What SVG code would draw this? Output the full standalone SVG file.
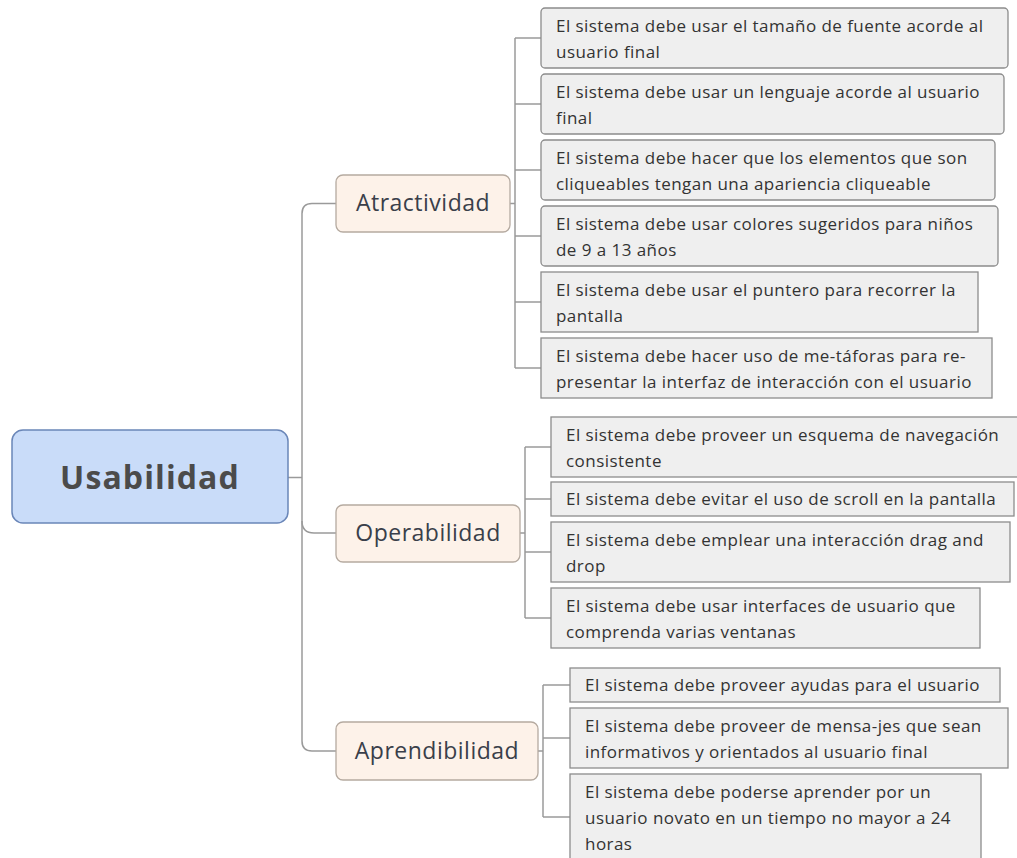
<svg xmlns="http://www.w3.org/2000/svg" width="1017" height="858" viewBox="0 0 1017 858">
<style>
.leaf{fill:#efefef;stroke:#8c8c8c;stroke-width:1.3}
.lt{font-family:"Open Sans",sans-serif;font-size:17px;letter-spacing:0.45px;fill:#333}
.sub{fill:#fdf2e9;stroke:#b5aaa0;stroke-width:1.3}
.st{font-family:"Open Sans",sans-serif;font-size:23px;letter-spacing:0.5px;fill:#3a3f4a;text-anchor:middle}
.conn{fill:none;stroke:#9a9a9a;stroke-width:1.5}
</style>
<rect width="1017" height="858" fill="#fff"/>
<g id="connectors">
<path class="conn" d="M288 477.5H302"/>
<path class="conn" d="M336 203.5H312Q302 203.5 302 213.5V741Q302 751 312 751H336"/>
<path class="conn" d="M302 521Q302 533 314 533H336"/>
<path class="conn" d="M510 203.5H515M515 38V368M515 38H541M515 104H541M515 170H541M515 236H541M515 302H541M515 368H541"/>
<path class="conn" d="M520 533H525M525 447V618M525 447H551M525 499H551M525 552H551M525 618H551"/>
<path class="conn" d="M538 751H543M543 685V817M543 685H570M543 738H570M543 817H570"/>
</g>
<g id="root">
<rect x="12" y="430" width="276" height="93" rx="11" fill="#c9dcf9" stroke="#6a86b8" stroke-width="1.5"/>
<text x="150" y="489" font-family="'Open Sans',sans-serif" font-size="32" font-weight="bold" letter-spacing="1.1" fill="#4b4b4b" text-anchor="middle">Usabilidad</text>
</g>
<g id="atractividad">
<rect class="sub" x="336" y="175" width="174" height="57" rx="7"/>
<text class="st" x="423" y="211">Atractividad</text>
</g>
<g id="operabilidad">
<rect class="sub" x="336" y="505" width="184" height="57" rx="7"/>
<text class="st" x="428" y="541">Operabilidad</text>
</g>
<g id="aprendibilidad">
<rect class="sub" x="336" y="722" width="202" height="58" rx="7"/>
<text class="st" x="437" y="759">Aprendibilidad</text>
</g>
<g id="a1"><rect class="leaf" x="541" y="8" width="467" height="60" rx="4"/><text class="lt" x="556" y="32">El sistema debe usar el tamaño de fuente acorde al</text><text class="lt" x="556" y="58">usuario final</text></g>
<g id="a2"><rect class="leaf" x="541" y="74" width="463" height="60" rx="4"/><text class="lt" x="556" y="98">El sistema debe usar un lenguaje acorde al usuario</text><text class="lt" x="556" y="124">final</text></g>
<g id="a3"><rect class="leaf" x="541" y="140" width="454" height="60" rx="4"/><text class="lt" x="556" y="164">El sistema debe hacer que los elementos que son</text><text class="lt" x="556" y="190">cliqueables tengan una apariencia cliqueable</text></g>
<g id="a4"><rect class="leaf" x="541" y="206" width="457" height="60" rx="4"/><text class="lt" x="556" y="230">El sistema debe usar colores sugeridos para niños</text><text class="lt" x="556" y="256">de 9 a 13 años</text></g>
<g id="a5"><rect class="leaf" x="541" y="272" width="437" height="60"/><text class="lt" x="556" y="296">El sistema debe usar el puntero para recorrer la</text><text class="lt" x="556" y="322">pantalla</text></g>
<g id="a6"><rect class="leaf" x="541" y="338" width="451" height="60"/><text class="lt" x="556" y="362">El sistema debe hacer uso de me-táforas para re-</text><text class="lt" x="556" y="388">presentar la interfaz de interacción con el usuario</text></g>
<g id="o1"><rect class="leaf" x="551" y="417" width="470" height="60"/><text class="lt" x="566" y="441">El sistema debe proveer un esquema de navegación</text><text class="lt" x="566" y="467">consistente</text></g>
<g id="o2"><rect class="leaf" x="551" y="482" width="463" height="34"/><text class="lt" x="566" y="505">El sistema debe evitar el uso de scroll en la pantalla</text></g>
<g id="o3"><rect class="leaf" x="551" y="522" width="459" height="60"/><text class="lt" x="566" y="546">El sistema debe emplear una interacción drag and</text><text class="lt" x="566" y="572">drop</text></g>
<g id="o4"><rect class="leaf" x="551" y="588" width="429" height="60"/><text class="lt" x="566" y="612">El sistema debe usar interfaces de usuario que</text><text class="lt" x="566" y="638">comprenda varias ventanas</text></g>
<g id="p1"><rect class="leaf" x="570" y="668" width="430" height="34"/><text class="lt" x="585" y="691">El sistema debe proveer ayudas para el usuario</text></g>
<g id="p2"><rect class="leaf" x="570" y="708" width="438" height="60"/><text class="lt" x="585" y="732">El sistema debe proveer de mensa-jes que sean</text><text class="lt" x="585" y="758">informativos y orientados al usuario final</text></g>
<g id="p3"><rect class="leaf" x="570" y="774" width="411" height="90"/><text class="lt" x="585" y="798">El sistema debe poderse aprender por un</text><text class="lt" x="585" y="824">usuario novato en un tiempo no mayor a 24</text><text class="lt" x="585" y="850">horas</text></g>
</svg>
